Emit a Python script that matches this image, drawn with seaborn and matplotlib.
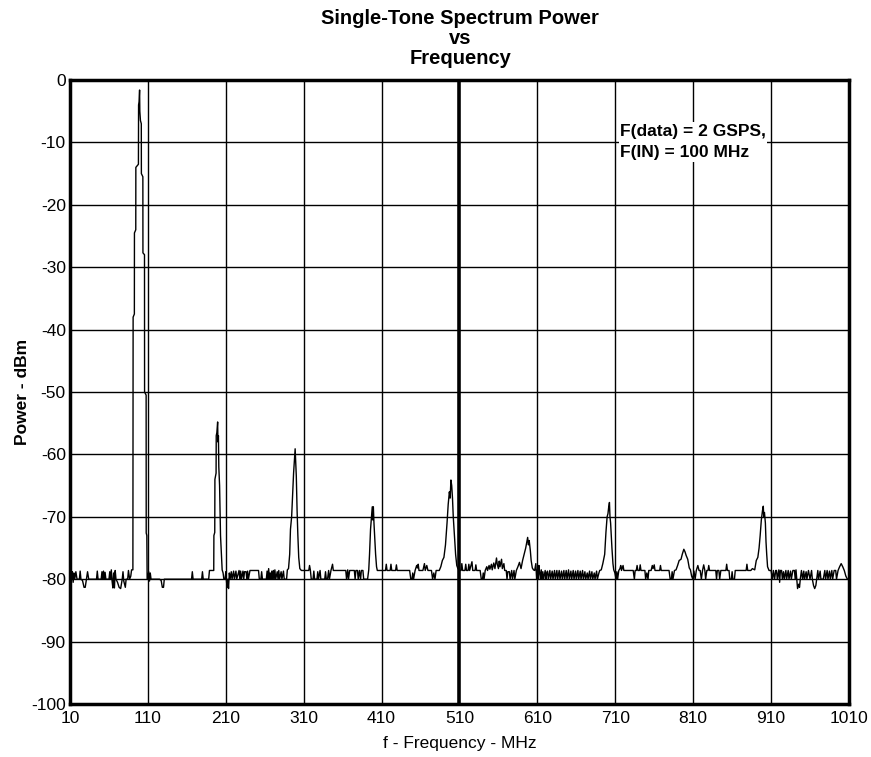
import matplotlib
matplotlib.use("Agg")
import matplotlib.pyplot as plt
import seaborn as sns
import numpy as np
import pandas as pd

# ---- data (frequency in MHz, power in dBm) ----
spectrum_pairs = [
    # 10-90 MHz noise floor
    (10,-81.5),(11,-79),(12,-80),(13,-78.8),(14,-80.5),(15,-79),(16,-80),(17.5,-78.8),(19,-80),(22,-80),
    (23,-78.7),(24,-80),(26,-80.2),(28,-81.3),(29.5,-81.3),(31,-80),(32.5,-78.8),(34,-80),(37,-80),(41,-80),
    (44,-80),(45,-78.7),(46,-80),(50,-80),(51,-78.8),(52,-80),(53,-78.7),(54,-80),(55,-78.9),(56,-80),
    (60,-80),(61,-78.8),(62,-80),(63,-78.5),(64,-80.3),(65,-81.4),(66,-79),(67,-81.4),(68,-78.6),(69,-80),
    (71,-80.5),(73,-81.3),(75,-81.5),(77,-80),(78,-78.8),(79,-80.3),(81,-81.3),(82,-80),(84,-80),(85,-78.6),
    (86.5,-80),(88,-79.5),(89,-78.5),(90.2,-78.5),
    # fundamental at 100 MHz
    (90.7,-78.5),(91.0,-38),(92.6,-37.5),(92.7,-24.5),(94.4,-24),(94.5,-14),(97.8,-13.5),(98.0,-4),(98.6,-3.5),
    (99.3,-1.6),(99.6,-5),(100.4,-6.5),(101.5,-7),(101.6,-15),(103.5,-15.5),(103.6,-27.7),(105.6,-28),(105.7,-50),
    (107.7,-50.5),(107.8,-72.6),(108.6,-73),(109,-80),
    (110,-80),(111,-78.8),(112,-80.3),(113,-79),(114,-80),(120,-80),(125,-80),(127,-80.2),(128.5,-81.3),(130,-81.3),
    (131,-80),(140,-80),(150,-80),(160,-80),(166,-80),(167,-78.8),(168,-80),(179,-80),(180,-78.8),(181,-80),
    (188,-80),(189,-78.6),(190.5,-78.6),
    # 2nd harmonic
    (194.5,-78.6),(194.7,-73),(195.8,-72.5),(196,-64),(197.5,-63),(197.7,-57),(198.5,-56.5),(199.5,-54.8),(199.9,-58),
    (200.5,-57),(201,-62),(202,-65),(203.2,-73),(204.3,-76),(205.3,-78.5),(206.5,-79),(207.5,-80),(209,-80),
    (210,-78.8),(211,-80.5),(212,-81.3),(212.6,-80),(213.5,-81.5),(214.5,-79),(215.5,-80),(217,-78.8),(218,-80),
    (220,-78.7),(221,-80),(223,-78.7),(224,-80),(227,-78.6),(228,-80),(229,-78.7),(230,-80),(232,-78.7),(233,-80),
    (234,-78.8),(236,-78.8),(237,-80),(238,-78.7),(239,-80),(241,-78.6),(252,-78.6),(253,-80),(255,-80),(256,-78.8),
    (257,-80),(262,-80),(263,-78.7),(264,-80),(265,-78.3),(266,-80),(267,-79),(268,-80),(269,-78.7),(270,-80),
    (271,-78.6),(272,-80),(273,-78.5),(274,-80),(276,-78.8),(277,-80),(278,-78.6),(279,-80),(281,-78.8),(282,-80),
    (284,-78.7),(285,-80),(288,-80),(289,-78.5),
    # 3rd harmonic
    (290.5,-78.3),(292,-76),(293,-72),(294.5,-70),(295.6,-67),(297,-63),(298,-61),(299,-59.1),(299.6,-61),
    (300.5,-63.5),(301.5,-69),(302.5,-73),(303.6,-76.5),(305,-78.3),(307,-78.6),(316.5,-78.6),(317.5,-77.8),
    (318.5,-78.5),(319.7,-80),(322,-80),(323,-78.7),(324,-80),(327,-80),(328,-78.8),(329,-80),(331,-78.6),(332,-80),
    (335,-80),(337,-80),(338,-78.8),(339,-80),(340.6,-80),(342,-78.6),(343,-80),(345,-78.6),(347,-77.6),(348,-78.6),
    (364,-78.6),(365,-80),(366.5,-78.5),(367.5,-80),(369,-78.6),(375,-78.6),(376,-80),(377,-78.6),(379,-78.6),
    (380,-80),(381.5,-78.6),(383,-80),(384,-78.6),(386,-78.6),(387,-80),(392,-80),
    # 4th harmonic
    (393.5,-78.5),(394.5,-76),(395.8,-72),(397,-70),(398,-68.4),(398.6,-70.5),(399.4,-68.4),(400.2,-71),(401.3,-73.5),
    (402.3,-76),(403.5,-78),(404.5,-78.6),(415,-78.6),(416,-77.6),(417,-78.6),(421,-78.6),(422,-77.6),(423,-78.6),
    (428,-78.6),(429,-77.7),(430,-78.6),(446,-78.6),(447.5,-80),(449,-80),(450,-79),(451,-80),(453,-78.6),
    (455,-77.8),(456,-78.2),(457,-77.6),(458,-78.6),(463,-78.6),(465,-77.5),(466,-78.6),(468,-77.8),(469.5,-78.6),
    (474,-78.6),(475.5,-80),(477,-79),(478.5,-80),(480,-78.6),(484,-78.6),
    # 5th harmonic
    (486,-78),(488,-77),(490,-76.5),(492,-74.5),(494,-71),(495.5,-68),(497,-66),(498,-67),(499,-64.1),(500,-65),
    (501,-67),(502,-70),(503.5,-73),(505,-76),(506.5,-77.8),(508,-78.3),(510,-78.6),(512,-78.6),(513,-77.5),
    (514,-78.6),(517,-78.6),(518,-77.6),(519,-78.6),(521,-78.6),(522,-77.6),(523,-78.6),(526,-77.2),(527,-78.6),
    (530,-78.6),(531,-77.7),(532,-78.6),(536.5,-78.6),(538,-80),(539.5,-80),(540.5,-79),(541.5,-80),(543,-78.6),
    (545,-78),(546,-78.6),(548,-77.8),(549,-78.4),(551,-77.6),(552,-78.5),(554,-77.4),(555.5,-78.3),(557.5,-76.6),
    (558.5,-77.6),(560,-78.3),(561,-77.1),(562,-78),(564,-76.8),(565,-78.3),(567,-77.5),(568,-78.6),(570,-78.6),
    (571,-80),(572,-78.8),(574,-78.8),(575,-80),(577,-78.6),(578,-80),(580,-78.6),(581,-80),
    # 6th harmonic
    (583,-78.6),(585,-78),(587,-77.3),(589,-78.3),(591,-77),(593,-76),(595,-75),(596.5,-74),(597.5,-73.3),
    (598.5,-74.5),(599.5,-73.8),(601,-75.5),(602,-77),(603.5,-78.2),(605,-78.5),(606.5,-78.6),(608,-77.5),(609,-80),
    (610,-78.5),(611,-80),(612,-77.8),(613,-79),(614,-80),(615,-78.5),(616,-80),(617,-78.8),(618,-80),(620,-78.6),
    (621,-80),(622,-79),(623,-78.7),(624,-80),(626,-78.6),(627,-80),(629,-78.7),(630,-80),(632,-78.6),(633,-80),
    (635,-78.6),(636,-80),(638,-78.6),(639,-80),(641,-78.7),(642,-80),(644,-78.6),(645,-80),(647,-78.6),(648,-80),
    (650,-78.5),(651,-80),(653,-78.7),(654,-80),(656,-78.6),(657,-80),(659,-78.7),(660,-80),(662,-78.6),(663,-80),
    (665,-78.7),(666,-80),(668,-78.6),(669,-80),(671,-78.8),(672,-80),(674,-79),(675,-80),(677,-78.7),(678,-80),
    (680,-78.8),(681,-80),(683,-79),(684,-80),(686,-78.7),(687,-80),(689,-79),(690,-78.6),(692,-78.5),
    # 7th harmonic
    (694,-77.5),(696.4,-76),(698,-72.5),(699.5,-70),(700.6,-69.5),(701.5,-68.5),(702.5,-67.7),(703.2,-70),(704,-71),
    (705.7,-75),(707,-77.5),(708,-78.5),(709.5,-79),(711,-80),(712,-78.8),(713,-80),(714.5,-78.6),(716,-78.3),
    (717,-77.8),(718,-78.6),(720,-77.8),(721,-78.6),(733,-78.6),(734.5,-80),(735.5,-78.6),(737,-78.6),(738,-77.8),
    (739,-78.6),(741,-78.6),(742,-77.7),(743,-78.6),(748,-78.6),(749,-80),(750.5,-79),(752,-80),(753,-78.6),
    (756,-78.6),(757.5,-77.8),(758.5,-78.3),(760,-77.7),(761,-78.6),(767,-78.6),(768,-77.8),(769,-78.6),(779,-78.6),
    (780.5,-80),(782,-80),(783,-78.8),(784,-80),(786,-78.6),
    # 8th harmonic
    (788,-78.5),(790,-77.8),(792,-77),(794.4,-76.8),(796,-76),(798,-75.2),(799.5,-75.6),(801,-76.2),(803,-76.8),
    (805,-78.2),(806.5,-78.5),(808,-79.5),(809.5,-80),(811,-78.7),(812.5,-80),(814,-78.6),(816,-77.8),(817.5,-78.6),
    (819,-78.6),(820.5,-80),(822,-78.6),(823.5,-77.7),(825,-78.6),(826,-80),(827.5,-78.6),(829,-78.6),(830,-77.8),
    (831,-78.6),(839,-78.6),(840,-80),(841,-78.6),(843,-78.6),(844,-80),(845.5,-78.6),(852,-78.6),(853,-77.6),
    (854,-78.6),(856,-78.6),(857,-80),(859,-80),(860,-78.8),(861,-80),(863,-80),(864,-78.6),(878,-78.6),(879,-77.6),
    (880,-78.6),(884,-78.6),
    # 9th harmonic
    (886,-78.3),(889,-78.5),(891,-77),(893,-76.5),(894.6,-75),(896,-73),(897.5,-70.5),(899,-69),(900,-68.3),
    (900.6,-70),(901.5,-69.3),(902.7,-71),(903.5,-74),(904.4,-76),(905.5,-78),(907.4,-78.6),(910,-78.6),(911.7,-80),
    (913,-78.6),(914.5,-80),(916,-78.6),(917,-78.6),(918,-80),(920,-78.5),(921,-80.5),(922,-78.6),(923.5,-78.6),
    (924.5,-80),(926,-78.8),(927,-80),(929,-78.6),(930,-80),(932,-78.6),(933,-80),(935,-78.7),(936,-80),(938,-78.6),
    (940,-78.6),(941,-80),(942,-78.5),(943,-80),(944,-81.5),(945.5,-80.8),(946.5,-81.3),(947.5,-80),(949,-78.6),
    (950.5,-80),(952,-78.7),(953,-80),(955,-78.8),(956,-80),(958,-78.6),(960,-80),(962,-78.6),(963,-80),(964.5,-81),
    (966,-81.5),(967.5,-81),(968.5,-80),(970,-78.6),(971,-80),(973,-78.7),(974,-80),(977,-80),(979,-78.6),(980,-80),
    (982,-78.6),(983,-80),(985,-78.7),(986,-80),(988,-78.6),(989,-80),(991,-78.6),(993,-78.6),(994,-80),(996,-78.6),
    (998,-78),(1000,-77.5),(1002,-78),(1004,-78.6),(1006,-79.5),(1008,-80),(1010,-80),
]
freq_mhz = [p[0] for p in spectrum_pairs]
power_dbm = [p[1] for p in spectrum_pairs]

x_ticks = [10, 110, 210, 310, 410, 510, 610, 710, 810, 910, 1010]
y_ticks = [0, -10, -20, -30, -40, -50, -60, -70, -80, -90, -100]
title_lines = ["Single-Tone Spectrum Power", "vs", "Frequency"]
annotation = "F(data) = 2 GSPS,\nF(IN) = 100 MHz"

# ---- styling ----
sns.set_style("white")
plt.rcParams['font.family'] = ['Liberation Sans', 'DejaVu Sans']
plt.rcParams['text.color'] = 'black'
plt.rcParams['axes.labelcolor'] = 'black'
plt.rcParams['xtick.color'] = 'black'
plt.rcParams['ytick.color'] = 'black'

fig = plt.figure(figsize=(8.71, 7.57), dpi=100)
ax = fig.add_axes([0.0804, 0.070, 0.8943, 0.8243])

df = pd.DataFrame({"f": freq_mhz, "p": power_dbm})

# grid
for xv in x_ticks:
    ax.axvline(xv, color="black", lw=2.6 if xv == 510 else 1.0, zorder=1)
for yv in y_ticks:
    ax.axhline(yv, color="black", lw=1.0, zorder=1)

sns.lineplot(data=df, x="f", y="p", ax=ax, color="black", linewidth=1.0,
             estimator=None, sort=False, zorder=3)

ax.set_xlim(10, 1010)
ax.set_ylim(-100, 0)
ax.set_xticks(x_ticks)
ax.set_yticks(y_ticks)
ax.set_xticklabels([str(v) for v in x_ticks], fontsize=12.5)
ax.set_yticklabels([str(v) for v in y_ticks], fontsize=12.5)
ax.tick_params(axis="x", length=0, pad=5)
ax.tick_params(axis="y", length=0, pad=3)
for s in ax.spines.values():
    s.set_color("black")
    s.set_linewidth(2.5)
    s.set_visible(True)

ax.set_xlabel("f - Frequency - MHz", fontsize=12.5, labelpad=7)
ax.set_ylabel("Power - dBm", fontsize=12.5, fontweight="bold", labelpad=1)

fig.text(0.5285, 0.988, "\n".join(title_lines), ha="center", va="top",
         fontsize=14.5, fontweight="bold", linespacing=1.05)

ax.text(716, -7.0, annotation, ha="left", va="top", fontsize=12.5,
        fontweight="bold", linespacing=1.55, zorder=4,
        bbox=dict(facecolor="white", edgecolor="none", pad=1))

fig.savefig("out.png", dpi=100, facecolor="white")
